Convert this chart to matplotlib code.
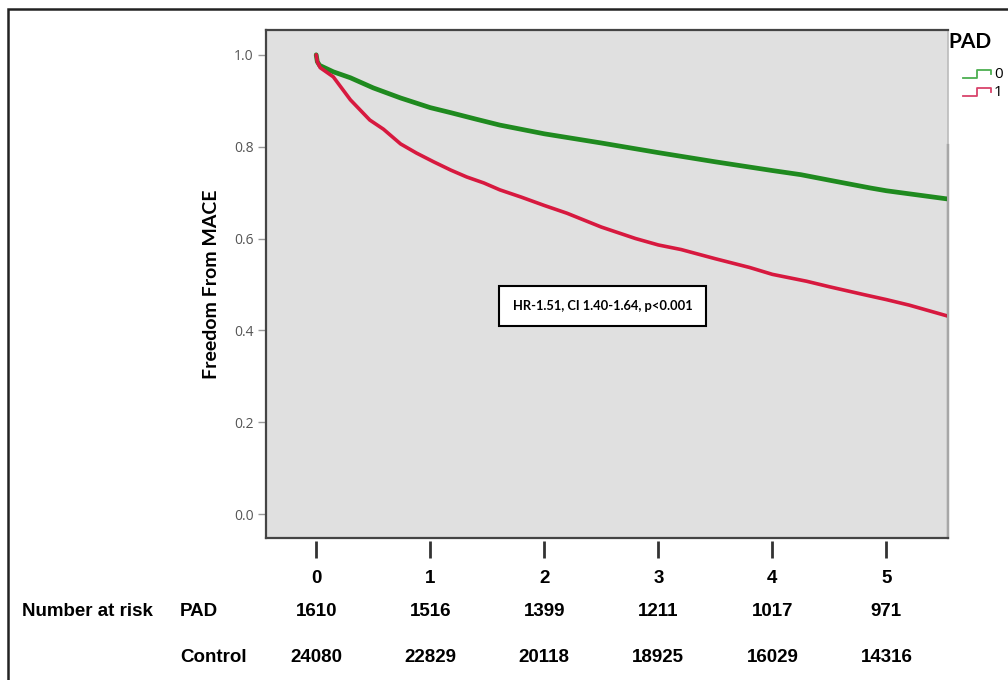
import numpy as np
import matplotlib
matplotlib.use('Agg')
import matplotlib.pyplot as plt
from matplotlib.lines import Line2D
from matplotlib.patches import Rectangle
import matplotlib.transforms as mtransforms

# survival curves (years, freedom from MACE)
green_t = [0, 0.01, 0.03, 0.15, 0.3, 0.5, 0.74, 1.0, 1.18, 1.4, 1.61, 2.0, 2.5, 3.0, 3.5, 4.0, 4.25, 4.5, 4.86, 5.0, 5.54]
green_s = [1.0, 0.985, 0.977, 0.963, 0.95, 0.928, 0.906, 0.885, 0.874, 0.86, 0.847, 0.828, 0.808, 0.787, 0.767, 0.748, 0.739, 0.727, 0.71, 0.704, 0.686]

red_t = [0, 0.01, 0.035, 0.15, 0.3, 0.47, 0.59, 0.74, 0.88, 1.03, 1.18, 1.32, 1.47, 1.61, 1.8, 2.0, 2.2,
         2.5, 2.8, 3.0, 3.2, 3.5, 3.8, 4.0, 4.3, 4.5, 4.8, 5.0, 5.2, 5.54]
red_s = [1.0, 0.985, 0.972, 0.952, 0.902, 0.858, 0.838, 0.806, 0.786, 0.767, 0.749, 0.734, 0.721, 0.706, 0.69, 0.672, 0.655,
         0.625, 0.6, 0.586, 0.576, 0.556, 0.537, 0.522, 0.507, 0.495, 0.478, 0.467, 0.455, 0.431]

years = [0, 1, 2, 3, 4, 5]
risk_pad = [1610, 1516, 1399, 1211, 1017, 971]
risk_control = [24080, 22829, 20118, 18925, 16029, 14316]
y_ticks = [0.0, 0.2, 0.4, 0.6, 0.8, 1.0]

green = '#1f8a1f'
red = '#d7193f'
tsize = 13.5

fig = plt.figure(figsize=(10.08, 6.8), dpi=100)
ax = fig.add_axes([266/1008, 1-538/680, (948-266)/1008, (538-30)/680])
ax.set_facecolor('#e0e0e0')

ax.plot(green_t, green_s, color=green, lw=3.4, solid_capstyle='round')
ax.plot(red_t, red_s, color=red, lw=2.6, solid_capstyle='round')

ax.set_xlim(-0.44, 5.54)
ax.set_ylim(-0.052, 1.054)

# y axis
ax.set_yticks(y_ticks)
ax.set_yticklabels(['%.1f' % v for v in y_ticks])
ax.tick_params(axis='y', length=6, width=1, color='#999999', labelcolor='#555555',
               labelsize=10, pad=3)
for lab in ax.get_yticklabels():
    lab.set_family('Open Sans')
ax.set_ylabel('Freedom From MACE', fontsize=14, fontweight='bold', family='Lato', labelpad=10)

# x axis ticks drawn on an offset secondary axis to leave a small gap
ax.set_xticks([])
sec = ax.secondary_xaxis(-0.006)
sec.spines['bottom'].set_visible(False)
sec.set_xticks(years)
sec.set_xticklabels([str(v) for v in years], fontsize=tsize, fontweight='bold', family='Liberation Sans')
sec.tick_params(axis='x', length=12, width=2, color='#333333', pad=9)

for s in ['left', 'bottom', 'top']:
    ax.spines[s].set_color('#444444')
    ax.spines[s].set_linewidth(1.6)
ax.spines['right'].set_color('#bbbbbb')
ax.spines['right'].set_linewidth(1.2)
ax.plot([1, 1], [0, 0.774], transform=ax.transAxes, color='#444444', lw=1.6, clip_on=False)

# HR annotation
ax.text(2.51, 0.453, 'HR-1.51, CI 1.40-1.64, p<0.001', ha='center', va='center',
        fontsize=9.3, fontweight='bold', family='Lato',
        bbox=dict(boxstyle='square,pad=1.05', fc='white', ec='black', lw=1.5))

# number at risk table
trans = mtransforms.blended_transform_factory(ax.transData, fig.transFigure)
for x, a, b in zip(years, risk_pad, risk_control):
    ax.text(x, 1-611/680, str(a), transform=trans, ha='center', va='center',
            fontsize=tsize, fontweight='bold', family='Liberation Sans', clip_on=False)
    ax.text(x, 1-658/680, str(b), transform=trans, ha='center', va='center',
            fontsize=tsize, fontweight='bold', family='Liberation Sans', clip_on=False)
fig.text(22/1008, 1-611/680, 'Number at risk', ha='left', va='center',
         fontsize=tsize, fontweight='bold', family='Liberation Sans')
fig.text(180/1008, 1-611/680, 'PAD', ha='left', va='center',
         fontsize=tsize, fontweight='bold', family='Liberation Sans')
fig.text(180/1008, 1-658/680, 'Control', ha='left', va='center',
         fontsize=tsize, fontweight='bold', family='Liberation Sans')

# legend
fig.text(948/1008, 1-42/680, 'PAD', ha='left', va='center', fontsize=15, fontweight='bold', family='Lato')
for yl, yh, col, lab in [(78, 70, '#4caf50', '0'), (96, 88, '#d9436b', '1')]:
    xs = np.array([963, 977, 977, 991, 991]) / 1008
    ys = 1 - np.array([yl, yl, yh, yh, yh + 4]) / 680
    fig.add_artist(Line2D(xs, ys, color=col, lw=1.3))
    fig.text(994/1008, 1-(yl-3)/680, lab, ha='left', va='center', fontsize=11, family='Open Sans')

# outer frame
fig.add_artist(Rectangle((8/1008, -0.1), 1.2, 1.1 - 9/680, transform=fig.transFigure,
                         fill=False, ec='#222222', lw=1.8))

fig.savefig('out.png', dpi=100)
